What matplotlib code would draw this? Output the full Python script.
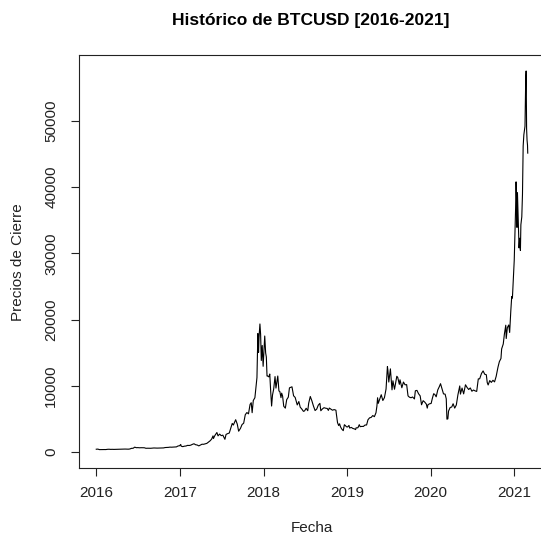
import matplotlib
matplotlib.use("Agg")
import matplotlib.pyplot as plt
import matplotlib.dates as mdates
import pandas as pd

# Closing prices of BTCUSD, 2016-01 .. 2021-02
dates = [
    "2016-01-01", "2016-01-08", "2016-01-15", "2016-01-22", "2016-01-29", "2016-02-05",
    "2016-02-12", "2016-02-19", "2016-02-26", "2016-03-04", "2016-03-11", "2016-03-18",
    "2016-03-25", "2016-04-01", "2016-04-08", "2016-04-15", "2016-04-22", "2016-04-29",
    "2016-05-06", "2016-05-13", "2016-05-20", "2016-05-27", "2016-06-03", "2016-06-10",
    "2016-06-17", "2016-06-24", "2016-07-01", "2016-07-08", "2016-07-15", "2016-07-22",
    "2016-07-29", "2016-08-05", "2016-08-12", "2016-08-19", "2016-08-26", "2016-09-02",
    "2016-09-09", "2016-09-16", "2016-09-23", "2016-09-30", "2016-10-07", "2016-10-14",
    "2016-10-21", "2016-10-28", "2016-11-04", "2016-11-11", "2016-11-18", "2016-11-25",
    "2016-12-02", "2016-12-09", "2016-12-16", "2016-12-23", "2016-12-30",
    "2017-01-04", "2017-01-06", "2017-01-13", "2017-01-20", "2017-01-27", "2017-02-03",
    "2017-02-10", "2017-02-17", "2017-02-24", "2017-03-03", "2017-03-10", "2017-03-17",
    "2017-03-24", "2017-03-31", "2017-04-07", "2017-04-14", "2017-04-21", "2017-04-28",
    "2017-05-05", "2017-05-12", "2017-05-19", "2017-05-25", "2017-05-27", "2017-06-02",
    "2017-06-11", "2017-06-16", "2017-06-23", "2017-06-30", "2017-07-07", "2017-07-16",
    "2017-07-21", "2017-07-28", "2017-08-04", "2017-08-11", "2017-08-17", "2017-08-22",
    "2017-09-01", "2017-09-08", "2017-09-14", "2017-09-22", "2017-09-29", "2017-10-06",
    "2017-10-13", "2017-10-20", "2017-10-27", "2017-11-03", "2017-11-08", "2017-11-12",
    "2017-11-17", "2017-11-24", "2017-11-29", "2017-12-03", "2017-12-07", "2017-12-10",
    "2017-12-12", "2017-12-16", "2017-12-19", "2017-12-22", "2017-12-26", "2017-12-30",
    "2018-01-02", "2018-01-06", "2018-01-10", "2018-01-13", "2018-01-16", "2018-01-19",
    "2018-01-24", "2018-01-28", "2018-02-01", "2018-02-05", "2018-02-09", "2018-02-14",
    "2018-02-20", "2018-02-24", "2018-03-04", "2018-03-09", "2018-03-13", "2018-03-18",
    "2018-03-21", "2018-03-25", "2018-03-30", "2018-04-06", "2018-04-12", "2018-04-19",
    "2018-04-24", "2018-05-05", "2018-05-12", "2018-05-19", "2018-05-28", "2018-06-04",
    "2018-06-10", "2018-06-17", "2018-06-24", "2018-06-29", "2018-07-06", "2018-07-13",
    "2018-07-17", "2018-07-24", "2018-07-31", "2018-08-07", "2018-08-14", "2018-08-21",
    "2018-08-28", "2018-09-04", "2018-09-08", "2018-09-15", "2018-09-22", "2018-09-29",
    "2018-10-06", "2018-10-11", "2018-10-15", "2018-10-22", "2018-10-29", "2018-11-05",
    "2018-11-13", "2018-11-15", "2018-11-20", "2018-11-25", "2018-11-29", "2018-12-03",
    "2018-12-08", "2018-12-15", "2018-12-20", "2018-12-24", "2018-12-29",
    "2019-01-03", "2019-01-09", "2019-01-12", "2019-01-19", "2019-01-26", "2019-02-02",
    "2019-02-07", "2019-02-09", "2019-02-17", "2019-02-23", "2019-02-27", "2019-03-06",
    "2019-03-13", "2019-03-20", "2019-03-27", "2019-04-02", "2019-04-09", "2019-04-16",
    "2019-04-23", "2019-04-30", "2019-05-07", "2019-05-11", "2019-05-14", "2019-05-17",
    "2019-05-24", "2019-05-30", "2019-06-06", "2019-06-13", "2019-06-20", "2019-06-26",
    "2019-06-28", "2019-07-02", "2019-07-09", "2019-07-16", "2019-07-20", "2019-07-27",
    "2019-08-03", "2019-08-06", "2019-08-10", "2019-08-17", "2019-08-20", "2019-08-28",
    "2019-09-04", "2019-09-11", "2019-09-18", "2019-09-24", "2019-09-30", "2019-10-07",
    "2019-10-14", "2019-10-22", "2019-10-26", "2019-11-02", "2019-11-09", "2019-11-16",
    "2019-11-22", "2019-11-29", "2019-12-06", "2019-12-13", "2019-12-17", "2019-12-20",
    "2019-12-27",
    "2020-01-03", "2020-01-08", "2020-01-14", "2020-01-19", "2020-01-25", "2020-02-01",
    "2020-02-08", "2020-02-13", "2020-02-19", "2020-02-26", "2020-03-04", "2020-03-09",
    "2020-03-12", "2020-03-16", "2020-03-19", "2020-03-26", "2020-04-02", "2020-04-08",
    "2020-04-15", "2020-04-22", "2020-04-29", "2020-05-07", "2020-05-10", "2020-05-17",
    "2020-05-24", "2020-06-01", "2020-06-08", "2020-06-15", "2020-06-22", "2020-06-29",
    "2020-07-06", "2020-07-13", "2020-07-20", "2020-07-27", "2020-08-02", "2020-08-10",
    "2020-08-17", "2020-08-24", "2020-08-31", "2020-09-04", "2020-09-08", "2020-09-15",
    "2020-09-22", "2020-09-29", "2020-10-06", "2020-10-13", "2020-10-21", "2020-10-27",
    "2020-11-03", "2020-11-06", "2020-11-13", "2020-11-18", "2020-11-24", "2020-11-26",
    "2020-12-01", "2020-12-07", "2020-12-11", "2020-12-16", "2020-12-20", "2020-12-23",
    "2020-12-27", "2020-12-31",
    "2021-01-03", "2021-01-06", "2021-01-08", "2021-01-10", "2021-01-12", "2021-01-14",
    "2021-01-17", "2021-01-21", "2021-01-24", "2021-01-27", "2021-01-29", "2021-02-02",
    "2021-02-05", "2021-02-08", "2021-02-11", "2021-02-14", "2021-02-16", "2021-02-19",
    "2021-02-21", "2021-02-23", "2021-02-25", "2021-02-27", "2021-02-28",
]

close = [
    434, 453, 375, 382, 379, 386,
    384, 421, 432, 410, 419, 408,
    417, 417, 419, 430, 450, 455,
    460, 455, 442, 473, 569, 577,
    748, 665, 676, 651, 663, 651,
    655, 575, 585, 575, 578, 600,
    623, 607, 602, 609, 617, 639,
    632, 688, 703, 715, 751, 740,
    764, 772, 785, 921, 961,
    1154, 892, 823, 895, 919, 1016,
    998, 1050, 1172, 1259, 1112, 1070,
    937, 1071, 1190, 1180, 1240, 1317,
    1507, 1693, 1960, 2446, 2052, 2492,
    2958, 2450, 2718, 2480, 2561, 1930,
    2667, 2791, 2875, 3632, 4325, 4085,
    4892, 4226, 3154, 3583, 4163, 4366,
    5648, 5970, 5776, 7207, 7459, 5950,
    7790, 8208, 9888, 11246, 17899, 15059,
    17276, 19345, 17776, 13831, 16099, 12952,
    14982, 17527, 14973, 14360, 11490, 11474,
    11359, 11786, 9170, 6955, 8621, 9494,
    11403, 9664, 11489, 9227, 9145, 8223,
    8900, 8470, 6926, 6636, 7923, 8294,
    9700, 9858, 8504, 8250, 7118, 7634,
    6786, 6499, 6153, 6218, 6617, 6251,
    7379, 8397, 7737, 6938, 6274, 6486,
    7091, 7357, 6240, 6519, 6705, 6625,
    6590, 6296, 6651, 6479, 6323, 6416,
    6330, 5739, 4451, 4009, 4278, 3822,
    3503, 3236, 4134, 4015, 3822,
    3794, 4024, 3631, 3728, 3570, 3502,
    3398, 3661, 3670, 4142, 3839, 3880,
    3875, 4086, 4095, 4880, 5171, 5239,
    5519, 5350, 5938, 6927, 8205, 7362,
    8052, 8661, 7786, 8230, 9530, 12913,
    12368, 10577, 12567, 9400, 10767, 9492,
    10821, 11450, 11283, 10231, 10917, 9716,
    10579, 10159, 10187, 8491, 8293, 8206,
    8321, 8023, 9259, 9318, 8809, 8491,
    7146, 7761, 7548, 7243, 6640, 7151,
    7290,
    7344, 8079, 8812, 8706, 8346, 9392,
    9904, 10326, 9600, 8785, 8755, 8039,
    4971, 5014, 6191, 6734, 6807, 7302,
    6640, 7116, 8658, 9986, 8756, 9670,
    8790, 10167, 9758, 9449, 9687, 9190,
    9375, 9244, 9161, 11053, 11064, 11878,
    12254, 11754, 11681, 10511, 10131, 10796,
    10525, 10841, 10602, 11426, 12823, 13654,
    14133, 15579, 16318, 17818, 19157, 17149,
    18803, 19191, 18058, 21310, 23477, 23241,
    26272, 28949,
    32782, 36825, 40797, 38356, 33922, 39187,
    35791, 30825, 32289, 30432, 34316, 35510,
    38903, 46196, 47909, 48717, 49199, 55888,
    57539, 48824, 47093, 46339, 45137,
]

year_ticks = ["2016", "2017", "2018", "2019", "2020", "2021"]
price_ticks = [0, 10000, 20000, 30000, 40000, 50000]

plt.rcParams["font.family"] = ["Liberation Sans", "DejaVu Sans"]

x = pd.to_datetime(dates)
y = pd.Series(close, dtype=float)

fig = plt.figure(figsize=(5.41, 5.35), dpi=100)
ax = fig.add_axes([79 / 541, 67 / 535, 466 / 541, 413 / 535])
ax.plot(x, y, color="black", lw=0.8)

# base-R style 4% padding on x; y range as in the saved device
xn = mdates.date2num(x)
xpad = 0.04 * (xn.max() - xn.min())
ax.set_xlim(xn.min() - xpad, xn.max() + xpad)
ax.set_ylim(-2400, 59950)

ax.set_xticks(mdates.date2num(pd.to_datetime([f"{t}-01-01" for t in year_ticks])))
ax.set_xticklabels(year_ticks)
ax.set_yticks(price_ticks)
ax.set_yticklabels([str(v) for v in price_ticks], rotation=90, va="center")

ax.tick_params(axis="both", direction="out", length=6, width=0.8,
               labelsize=11, colors="#222222")
ax.tick_params(axis="x", pad=7)
ax.tick_params(axis="y", pad=9)
for s in ax.spines.values():
    s.set_linewidth(0.8)
    s.set_color("#222222")
ax.spines["right"].set_visible(False)

fig.text(311 / 541, 1 - 20 / 535, "Histórico de BTCUSD [2016-2021]",
         ha="center", va="center", fontsize=12.5, fontweight="bold")
fig.text(312 / 541, 1 - 528 / 535, "Fecha", ha="center", va="center",
         fontsize=11, color="#222222")
fig.text(18 / 541, 1 - 262 / 535, "Precios de Cierre", ha="center", va="center",
         rotation=90, fontsize=11, color="#222222")

fig.savefig("out.png", dpi=100)
